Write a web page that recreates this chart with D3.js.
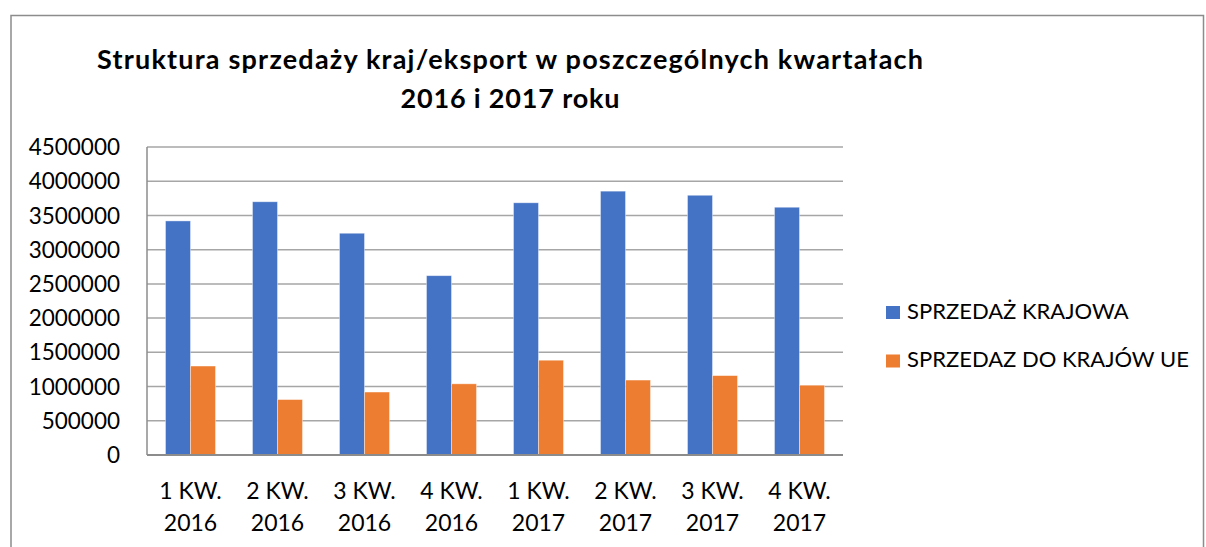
<!DOCTYPE html>
<html>
<head>
<meta charset="utf-8">
<script src="https://cdn.jsdelivr.net/npm/d3@7"></script>
<style>
  body { margin: 0; background: #fff; }
  text { font-family: Lato, "Open Sans", sans-serif; fill: #000; }
</style>
</head>
<body>
<div id="chart"></div>
<script>
var quarters = ["1 KW.|2016", "2 KW.|2016", "3 KW.|2016", "4 KW.|2016",
                "1 KW.|2017", "2 KW.|2017", "3 KW.|2017", "4 KW.|2017"];
var krajowa = [3420000, 3700000, 3240000, 2620000, 3685000, 3855000, 3795000, 3620000];
var ue = [1300000, 810000, 920000, 1040000, 1385000, 1095000, 1160000, 1020000];
var seriesNames = ["SPRZEDAŻ KRAJOWA", "SPRZEDAZ DO KRAJÓW UE"];
var colors = ["#4472c4", "#ed7d31"];
var yTicks = [0, 500000, 1000000, 1500000, 2000000, 2500000, 3000000, 3500000, 4000000, 4500000];

var W = 1206, H = 547;
var margin = { top: 147, left: 147, right: 363, bottom: 92 };
var width = W - margin.left - margin.right,
    height = H - margin.top - margin.bottom;

var svgRoot = d3.select("#chart").append("svg")
  .attr("width", W).attr("height", H);

// chart frame
svgRoot.append("path")
  .attr("d", "M11,547 V15.5 H1203.5 V547")
  .attr("fill", "none").attr("stroke", "#8c8c8c").attr("stroke-width", 1.5);

// title
var title = svgRoot.append("text")
  .attr("text-anchor", "middle")
  .style("font-weight", "bold").style("font-size", "27px");
title.append("tspan").attr("x", 510).attr("y", 69)
  .attr("textLength", 826).attr("lengthAdjust", "spacing")
  .text("Struktura sprzedaży kraj/eksport w poszczególnych kwartałach");
title.append("tspan").attr("x", 510).attr("y", 108)
  .attr("textLength", 219).attr("lengthAdjust", "spacing")
  .text("2016 i 2017 roku");

var svg = svgRoot.append("g")
  .attr("transform", "translate(" + margin.left + "," + margin.top + ")");

var x = d3.scaleBand().domain(quarters).range([0, width]).paddingInner(0.425).paddingOuter(0.2125);
var xs = d3.scaleBand().domain([0, 1]).range([0, x.bandwidth()]);
var y = d3.scaleLinear().domain([0, 4500000]).range([height, 0]);

// gridlines
svg.append("g")
  .selectAll("line").data(yTicks.slice(1)).enter().append("line")
    .attr("x1", 0).attr("x2", width)
    .attr("y1", d => y(d)).attr("y2", d => y(d))
    .attr("stroke", "#a6a6a6").attr("stroke-width", 1.5);

// y labels
svg.append("g")
  .selectAll("text").data(yTicks).enter().append("text")
    .attr("x", -27).attr("y", d => y(d))
    .attr("dy", "0.36em")
    .attr("text-anchor", "end")
    .style("font-size", "22.5px")
    .text(d => d);

// bars
var data = quarters.map((q, i) => ({ q: q, vals: [krajowa[i], ue[i]] }));
var groups = svg.selectAll(".grp").data(data).enter().append("g")
  .attr("transform", d => "translate(" + x(d.q) + ",0)");
groups.selectAll("rect").data(d => d.vals).enter().append("rect")
  .attr("x", (d, i) => xs(i))
  .attr("width", xs.bandwidth())
  .attr("y", d => y(d))
  .attr("height", d => height - y(d))
  .attr("fill", (d, i) => colors[i])
  .attr("stroke", "#ffffff").attr("stroke-opacity", 0.5).attr("stroke-width", 0.8);

// axes lines
svg.append("line")
  .attr("x1", 0).attr("x2", 0).attr("y1", 0).attr("y2", height)
  .attr("stroke", "#8c8c8c").attr("stroke-width", 1.5);
svg.append("line")
  .attr("x1", 0).attr("x2", width).attr("y1", height).attr("y2", height)
  .attr("stroke", "#8c8c8c").attr("stroke-width", 2);

// x labels
var xl = svg.append("g").selectAll("text").data(quarters).enter().append("text")
  .attr("text-anchor", "middle")
  .style("font-size", "23px");
xl.append("tspan")
  .attr("x", d => x(d) + x.bandwidth() / 2).attr("y", height + 44)
  .text(d => d.split("|")[0]);
xl.append("tspan")
  .attr("x", d => x(d) + x.bandwidth() / 2).attr("y", height + 76)
  .text(d => d.split("|")[1]);

// legend
var legend = svgRoot.append("g").attr("transform", "translate(886,306)");
var li = legend.selectAll("g").data(seriesNames).enter().append("g")
  .attr("transform", (d, i) => "translate(0," + i * 48.5 + ")");
li.append("rect").attr("width", 14).attr("height", 13).attr("fill", (d, i) => colors[i]);
li.append("text").attr("x", 21).attr("y", 12.5)
  .style("font-size", "22px").text(d => d);
</script>
</body>
</html>
